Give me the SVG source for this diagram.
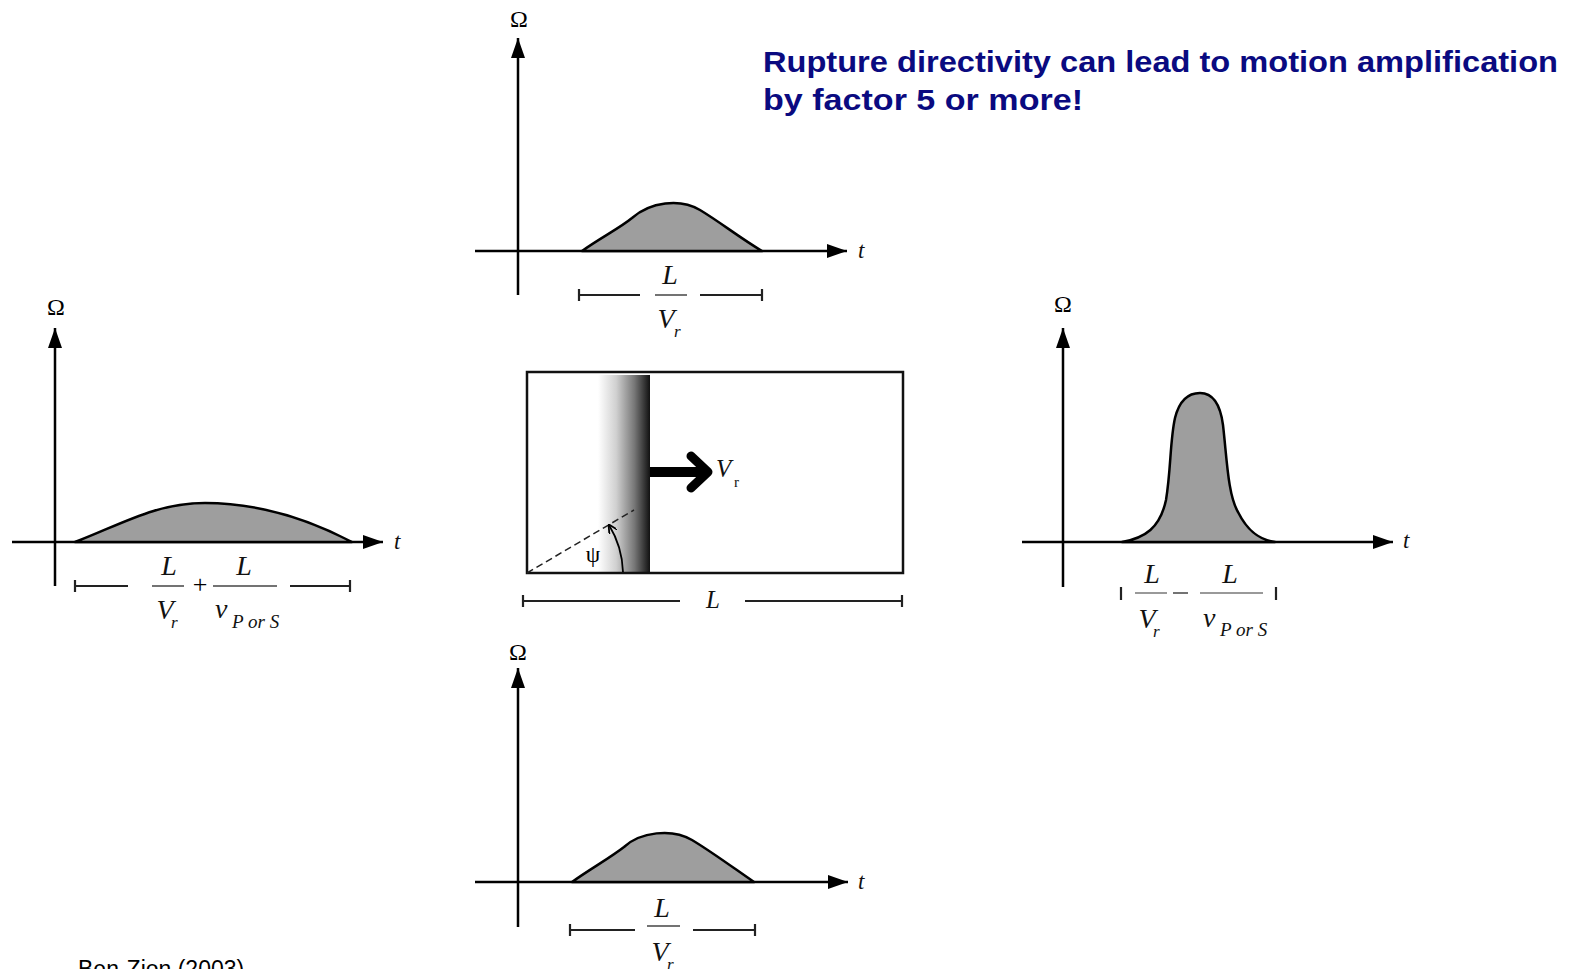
<svg xmlns="http://www.w3.org/2000/svg" width="1570" height="969" viewBox="0 0 1570 969">
<style>
.ax{stroke:#000;stroke-width:2.5;fill:none}
.hump{fill:#9e9e9e;stroke:#000;stroke-width:2.5;stroke-linejoin:round}
.br{stroke:#222;stroke-width:2.2;fill:none}
.fl{stroke:#444;stroke-width:1.5}
.fg{stroke:#999;stroke-width:2}
.m{font-family:"Liberation Serif",serif;font-style:italic;fill:#111}
.om{font-family:"Liberation Serif",serif;font-size:24px;fill:#000;text-anchor:middle}
.title{font-family:"Comic Sans MS","Liberation Sans",sans-serif;font-weight:bold;font-size:29px;fill:#0a0a80}
</style>
<defs>
<marker id="ah" viewBox="0 0 20 14" refX="20" refY="7" markerWidth="20" markerHeight="14" markerUnits="userSpaceOnUse" orient="auto">
<path d="M0,0 L20,7 L0,14 Z" fill="#000"/>
</marker>
<marker id="sa" viewBox="0 0 10 10" refX="9" refY="5" markerWidth="9" markerHeight="9" markerUnits="userSpaceOnUse" orient="auto">
<path d="M0,0 L10,5 L0,10" fill="none" stroke="#000" stroke-width="2"/>
</marker>
<linearGradient id="grad" x1="0" y1="0" x2="1" y2="0">
<stop offset="0" stop-color="#fff"/>
<stop offset="0.35" stop-color="#d0d0d0"/>
<stop offset="0.7" stop-color="#777"/>
<stop offset="0.9" stop-color="#333"/>
<stop offset="1" stop-color="#111"/>
</linearGradient>
</defs>
<rect width="1570" height="969" fill="#fff"/>

<g id="title">
<text class="title" x="763" y="72" textLength="795" lengthAdjust="spacingAndGlyphs">Rupture directivity can lead to motion amplification</text>
<text class="title" x="763" y="110" textLength="320" lengthAdjust="spacingAndGlyphs">by factor 5 or more!</text>
</g>

<g id="plot-top">
<line class="ax" x1="518" y1="295" x2="518" y2="38" marker-end="url(#ah)"/>
<line class="ax" x1="475" y1="251" x2="847" y2="251" marker-end="url(#ah)"/>
<path class="hump" d="M582,251 C600,238 620,228 632,218 C650,202 680,198 700,210 C720,222 740,238 762,251 Z"/>
<text class="om" x="519" y="27">Ω</text>
<text class="m" x="858" y="258" font-size="23">t</text>
<path class="br" d="M579,289 V301 M579,295 H640 M700,295 H762 M762,289 V301"/>
<line class="fl" x1="655" y1="295" x2="687" y2="295"/>
<text class="m" x="670" y="284" font-size="28" text-anchor="middle">L</text>
<text class="m" x="666" y="328" font-size="28" text-anchor="middle">V</text>
<text class="m" x="674" y="337" font-size="17">r</text>
</g>

<g id="plot-left">
<line class="ax" x1="55" y1="586" x2="55" y2="328" marker-end="url(#ah)"/>
<line class="ax" x1="12" y1="542" x2="383" y2="542" marker-end="url(#ah)"/>
<path class="hump" d="M75,542 C120,525 155,503 205,503 C260,503 310,520 352,542 Z"/>
<text class="om" x="56" y="315">Ω</text>
<text class="m" x="394" y="549" font-size="23">t</text>
<path class="br" d="M75,580 V592 M75,586 H128 M290,586 H350 M350,580 V592"/>
<line class="fl" x1="152" y1="586" x2="184" y2="586"/>
<text class="m" x="169" y="575" font-size="28" text-anchor="middle">L</text>
<text class="m" x="165" y="619" font-size="28" text-anchor="middle">V</text>
<text class="m" x="171" y="628" font-size="17">r</text>
<text x="200" y="593" font-family="Liberation Serif,serif" font-size="26" text-anchor="middle">+</text>
<line class="fl" x1="213" y1="586" x2="277" y2="586"/>
<text class="m" x="244" y="575" font-size="28" text-anchor="middle">L</text>
<text class="m" x="215" y="618" font-size="28">v</text>
<text class="m" x="232" y="628" font-size="19">P or S</text>
</g>

<g id="plot-right">
<line class="ax" x1="1063" y1="587" x2="1063" y2="328" marker-end="url(#ah)"/>
<line class="ax" x1="1022" y1="542" x2="1393" y2="542" marker-end="url(#ah)"/>
<path class="hump" d="M1122,542 C1145,538 1160,528 1166,500 C1171,470 1170,440 1175,418 C1180,398 1190,393 1200,393 C1212,393 1220,402 1223,425 C1227,460 1228,495 1238,512 C1248,532 1260,540 1275,542 Z"/>
<text class="om" x="1063" y="312">Ω</text>
<text class="m" x="1403" y="548" font-size="23">t</text>
<path class="br" d="M1121,587 V600 M1276,587 V600"/>
<line class="fg" x1="1135" y1="593" x2="1167" y2="593"/>
<line class="fl" x1="1173" y1="593" x2="1188" y2="593"/>
<line class="fg" x1="1200" y1="593" x2="1263" y2="593"/>
<text class="m" x="1152" y="583" font-size="28" text-anchor="middle">L</text>
<text class="m" x="1230" y="583" font-size="28" text-anchor="middle">L</text>
<text class="m" x="1147" y="628" font-size="28" text-anchor="middle">V</text>
<text class="m" x="1153" y="637" font-size="17">r</text>
<text class="m" x="1203" y="627" font-size="28">v</text>
<text class="m" x="1220" y="636" font-size="19">P or S</text>
</g>

<g id="plot-bottom">
<line class="ax" x1="518" y1="927" x2="518" y2="668" marker-end="url(#ah)"/>
<line class="ax" x1="475" y1="882" x2="848" y2="882" marker-end="url(#ah)"/>
<path class="hump" d="M572,882 C590,869 610,858 624,847 C640,832 672,828 692,840 C712,852 735,869 754,882 Z"/>
<text class="om" x="518" y="660">Ω</text>
<text class="m" x="858" y="889" font-size="23">t</text>
<path class="br" d="M570,924 V936 M570,930 H635 M693,930 H755 M755,924 V936"/>
<line class="fl" x1="647" y1="926" x2="680" y2="926"/>
<text class="m" x="662" y="917" font-size="28" text-anchor="middle">L</text>
<text class="m" x="660" y="961" font-size="28" text-anchor="middle">V</text>
<text class="m" x="667" y="970" font-size="17">r</text>
</g>

<g id="fault">
<rect x="598" y="375" width="52" height="197" fill="url(#grad)"/>
<rect x="527" y="372" width="376" height="201" fill="none" stroke="#111" stroke-width="2.5"/>
<line x1="527" y1="573" x2="634" y2="510" stroke="#222" stroke-width="1.5" stroke-dasharray="7,4"/>
<path d="M623,572 A96,96 0 0 0 609,525" fill="none" stroke="#000" stroke-width="1.8" marker-end="url(#sa)"/>
<text x="593" y="562" font-family="Liberation Serif,serif" font-size="23" text-anchor="middle">ψ</text>
<line x1="650" y1="472" x2="704" y2="472" stroke="#000" stroke-width="10"/>
<polyline points="691,456 708,472 691,488" fill="none" stroke="#000" stroke-width="9" stroke-linecap="round" stroke-linejoin="round"/>
<text class="m" x="716" y="477" font-size="25">V</text>
<text x="734" y="487" font-family="Liberation Serif,serif" font-size="15" fill="#111">r</text>
<path class="br" d="M523,595 V607 M523,601 H680 M745,601 H902 M902,595 V607"/>
<text class="m" x="713" y="608" font-size="25" text-anchor="middle">L</text>
</g>

<g id="credit">
<text x="78" y="977" font-family="Liberation Sans,sans-serif" font-size="23" fill="#000">Ben-Zion (2003)</text>
</g>
</svg>
